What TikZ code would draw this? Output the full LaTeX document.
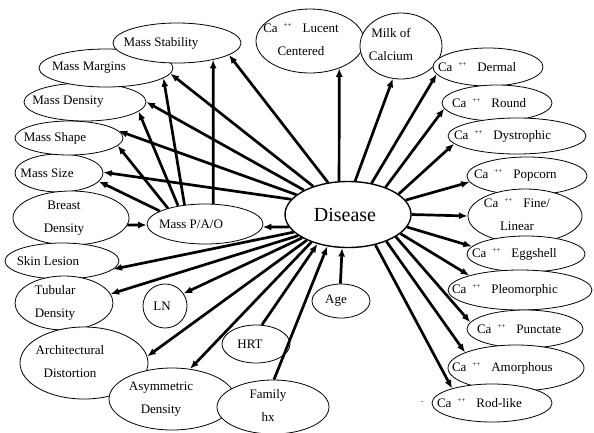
\documentclass[tikz,border=0pt]{standalone}
\usepackage{fontspec}
\setmainfont{Liberation Serif}
\usetikzlibrary{shapes.geometric,arrows.meta}
\newcommand\cx[2]{\makebox[0pt]{\hspace*{#1}\hspace*{#1}#2}}
\newcommand\lx[2]{\makebox[0pt][l]{\hspace*{#1}#2}}
\newcommand\tl[2]{\begin{tabular}{@{}c@{}}#1\\[7pt]#2\end{tabular}}
\newcommand\cA{Ca\hspace{6pt}\smash{\raisebox{5pt}{\fontsize{7}{7}\selectfont ++}}\hspace{11pt}}
\tikzset{
  el/.style={draw, ellipse, fill=white, line width=0.8pt, inner sep=0pt,
    font=\fontsize{13}{15.6}\selectfont},
  arr/.style={line width=2.7pt, -{Latex[length=8.5pt,width=7pt]}},
}
\begin{document}
\begin{tikzpicture}[x=1pt,y=-1pt]
\useasboundingbox (0,0) rectangle (594,432);
% left column
\node[el, minimum width=88,  minimum height=38] (size) at (59,173) {\cx{-12pt}{Mass Size}};
\node[el, minimum width=108, minimum height=34] (shap) at (69,138) {\cx{-14pt}{Mass Shape}};
\node[el, minimum width=122, minimum height=38] (dens) at (85,102) {\cx{-17pt}{Mass Density}};
\node[el, minimum width=134, minimum height=38] (marg) at (106,68) {\cx{-17pt}{Mass Margins}};
\node[el, minimum width=128, minimum height=40] (stab) at (177,43) {\cx{-16pt}{Mass Stability}};
\node[el, minimum width=116, minimum height=50] (breast) at (71,218) {\cx{-7pt}{\tl{Breast}{Density}}};
\node[el, minimum width=116, minimum height=40] (pao) at (205,224) {\cx{-14pt}{Mass P/A/O}};
\node[el, minimum width=114, minimum height=36] (skin) at (62,261) {\cx{-14pt}{Skin Lesion}};
\node[el, minimum width=98,  minimum height=54] (tub) at (64,303) {\cx{-9pt}{\tl{Tubular}{Density}}};
\node[el, minimum width=44,  minimum height=44] (ln) at (165,306) {\cx{-3pt}{LN}};
\node[el, minimum width=128, minimum height=72] (arch) at (84,363) {\cx{-14pt}{\tl{Architectural}{Distortion}}};
\node[el, minimum width=126, minimum height=62] (asym) at (172,399) {\cx{-11pt}{\tl{Asymmetric}{Density}}};
\node[el, minimum width=112, minimum height=48] (fam) at (273,407) {\cx{-5pt}{\tl{Family}{hx}}};
\node[el, minimum width=68,  minimum height=38] (hrt) at (256,344) {\cx{-6pt}{HRT}};
\node[el, minimum width=58,  minimum height=34] (age) at (341,301) {\cx{-5pt}{Age}};
% centre
\node[el, line width=1.4pt, minimum width=126, minimum height=66,
  font=\fontsize{20}{24}\selectfont] (dis) at (348,214.5) {\cx{-3pt}{Disease}};
% right column
\node[el, minimum width=108, minimum height=64] (lucent) at (310,41) {\cx{-9pt}{\tl{\cA Lucent}{Centered}}};
\node[el, minimum width=82,  minimum height=66] (milk) at (401,46) {\cx{-10pt}{\tl{Milk of}{Calcium}}};
\node[el, minimum width=110, minimum height=38] (dermal) at (488,67) {\lx{-50pt}{\cA Dermal}};
\node[el, minimum width=110, minimum height=36] (round) at (497,103) {\lx{-45pt}{\cA Round}};
\node[el, minimum width=138, minimum height=36] (dystro) at (517,136) {\lx{-63pt}{\cA Dystrophic}};
\node[el, minimum width=120, minimum height=38] (pop) at (527,176) {\lx{-53pt}{\cA Popcorn}};
\node[el, minimum width=114, minimum height=44] (fine) at (525,216) {\cx{-8pt}{\tl{\cA Fine/}{Linear}}};
\node[el, minimum width=118, minimum height=36] (egg) at (526,254) {\lx{-54pt}{\cA Eggshell}};
\node[el, minimum width=144, minimum height=40] (pleo) at (520,290) {\lx{-68pt}{\cA Pleomorphic}};
\node[el, minimum width=116, minimum height=38] (punct) at (525,329) {\lx{-48pt}{\cA Punctate}};
\node[el, minimum width=136, minimum height=46] (amor) at (516,368) {\lx{-64pt}{\cA Amorphous}};
\node[el, minimum width=120, minimum height=38] (rod) at (492,403) {\lx{-55pt}{\cA Rod-like}};
\node[inner sep=0pt, font=\fontsize{10}{12}\selectfont] (dot) at (422,402) {.};
% Mass P/A/O to mass descriptors
\draw[arr] (pao.68) -- (stab.-25);
\draw[arr] (pao.137) -- (marg.-10);
\draw[arr] (pao.146) -- (dens.-10);
\draw[arr] (pao.157) -- (shap.-9);
\draw[arr] (pao.164) -- (size.-12);
% Disease to mass descriptors
\draw[arr] (dis.122) -- (stab.-13);
\draw[arr] (dis.141) -- (marg.-5);
\draw[arr] (dis.151) -- (dens.0);
\draw[arr] (dis.159) -- (shap.8);
\draw[arr] (dis.165) -- (size.1);
\draw[arr] (dis.192) -- (pao.-3);
\draw[arr] (breast.-7) -- (pao.181);
% Disease to calcifications
\draw[arr] (dis.105) -- (lucent.-43);
\draw[arr] (dis.78) -- (milk.-104);
\draw[arr] (dis.53) -- (dermal.-172);
\draw[arr] (dis.36) -- (round.186);
\draw[arr] (dis.22) -- (dystro.187);
\draw[arr] (dis.14) -- (pop.186);
\draw[arr] (dis.0) -- (fine.180);
\draw[arr] (dis.-12) -- (egg.172);
\draw[arr] (dis.-20) -- (pleo.164);
\draw[arr] (dis.-25) -- (punct.173);
\draw[arr] (dis.-35) -- (amor.163);
\draw[arr] (dis.-48) -- (rod.160);
% Disease to lower left
\draw[arr] (dis.198) -- (skin.-9);
\draw[arr] (dis.203) -- (tub.11);
\draw[arr] (dis.207) -- (ln.34);
\draw[arr] (dis.212) -- (arch.6);
\draw[arr] (dis.217) -- (asym.59);
% risk factors into Disease
\draw[arr] (hrt.73) -- (dis.224);
\draw[arr] (fam.88) -- (dis.237);
\draw[arr] (age.92) -- (dis.260);
\end{tikzpicture}
\end{document}
